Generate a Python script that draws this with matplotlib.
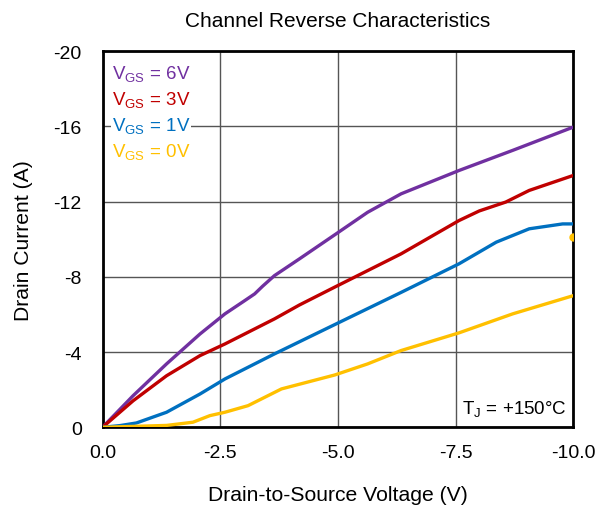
import matplotlib
matplotlib.use("Agg")
import matplotlib.pyplot as plt
import numpy as np

plt.rcParams['font.family'] = ['Liberation Sans', 'DejaVu Sans']

# Datos (V en volts, I en amperes, se grafican negativos)
v_6v = [0, 0.65, 1.36, 2.07, 2.6, 3.0, 3.23, 3.4, 3.65, 4.18, 4.93, 5.63, 6.34, 7.57, 8.71, 10.0]
i_6v = [0, 1.68, 3.37, 4.96, 6.03, 6.7, 7.09, 7.5, 8.06, 8.95, 10.23, 11.43, 12.41, 13.65, 14.72, 15.96]

v_3v = [0, 0.65, 1.36, 2.07, 2.6, 3.65, 4.18, 4.93, 6.34, 7.57, 8.0, 8.56, 9.06, 10.0]
i_3v = [0, 1.41, 2.74, 3.81, 4.43, 5.76, 6.5, 7.45, 9.22, 10.99, 11.5, 11.97, 12.59, 13.39]

v_1v = [0, 0.37, 0.72, 1.36, 2.07, 2.6, 3.65, 5.03, 6.34, 7.57, 8.36, 9.06, 9.77, 10.0]
i_1v = [0, 0.09, 0.23, 0.8, 1.77, 2.57, 3.9, 5.58, 7.17, 8.69, 9.84, 10.55, 10.81, 10.81]

v_0v = [0, 1.36, 1.92, 2.28, 2.6, 3.09, 3.8, 4.93, 5.63, 6.34, 7.57, 8.71, 10.0]
i_0v = [0, 0.1, 0.27, 0.62, 0.8, 1.15, 2.04, 2.78, 3.37, 4.08, 5.02, 6.03, 7.0]

punto_0v = (10.0, 10.1)

etiquetas = ['6V', '3V', '1V', '0V']
colores = ['#7030A0', '#C00000', '#0070C0', '#FFC000']

fig = plt.figure(figsize=(5.97, 5.10), dpi=100)
ax = fig.add_axes([0.1717, 0.1602, 0.7889, 0.7378])

curvas = [(v_6v, i_6v), (v_3v, i_3v), (v_1v, i_1v), (v_0v, i_0v)]
for (v, i), c in zip(curvas, colores):
    ax.plot(-np.array(v), -np.array(i), color=c, lw=2.4, solid_capstyle='round',
            solid_joinstyle='round', zorder=3)

ax.plot(-punto_0v[0], -punto_0v[1], 'o', color=colores[3], ms=5, zorder=3)

ax.set_xlim(0, -10)
ax.set_ylim(0, -20)
ax.set_xticks([0, -2.5, -5, -7.5, -10])
ax.set_xticklabels(['0.0', '-2.5', '-5.0', '-7.5', '-10.0'])
ax.set_yticks([0, -4, -8, -12, -16, -20])
ax.set_yticklabels(['0', '-4', '-8', '-12', '-16', '-20'])
ax.tick_params(length=0, labelsize=14)
ax.tick_params(axis='x', pad=12)
ax.tick_params(axis='y', pad=15)
ax.grid(True, color='#555555', lw=1)
for s in ax.spines.values():
    s.set_linewidth(2)
    s.set_color('black')

ax.set_title('Channel Reverse Characteristics', fontsize=15, pad=18)
ax.set_xlabel('Drain-to-Source Voltage (V)', fontsize=15.2, labelpad=17)
ax.set_ylabel('Drain Current (A)', fontsize=15.2, labelpad=15)

for k, (et, c) in enumerate(zip(etiquetas, colores)):
    ax.text(0.02, 0.939 - k * 0.069, r'V$_{\mathregular{GS}}$ = ' + et, color=c,
            fontsize=13.5, transform=ax.transAxes, va='center', ha='left',
            bbox=dict(facecolor='white', edgecolor='none', pad=0.5), zorder=4)

ax.text(0.985, 0.048, r'T$_{\mathregular{J}}$ = +150°C', fontsize=13.5, transform=ax.transAxes,
        ha='right', va='center', bbox=dict(facecolor='white', edgecolor='none', pad=1), zorder=4)

fig.savefig('out.png', dpi=100)
